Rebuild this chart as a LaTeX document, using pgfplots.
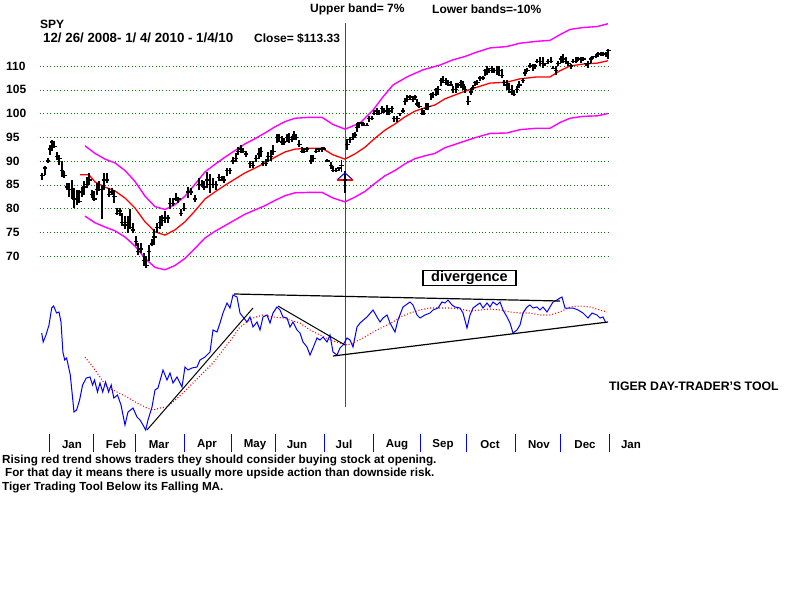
\documentclass[border=0pt]{standalone}
\usepackage{pgfplots}
\usepackage{pgfplotstable}
\pgfplotsset{compat=1.18}
\usepackage{fontspec}
\setmainfont{Liberation Sans}
\definecolor{dgreen}{RGB}{0,128,0}
\definecolor{mag}{RGB}{255,0,255}
\definecolor{pred}{RGB}{255,0,0}
\definecolor{pblue}{RGB}{0,0,255}

% price bars: x (pixel column), high, low, close
\pgfplotstableread{
x hi lo cl
42.3 87.4 86.0 87.0
45.0 89.0 87.1 88.5
47.7 90.6 89.5 90.0
49.7 93.4 91.3 92.5
52.3 94.4 92.2 94.0
54.3 94.1 92.7 93.0
57.0 91.8 90.2 91.0
59.3 91.3 89.2 90.5
61.7 89.9 86.7 88.0
64.3 87.8 86.4 87.0
66.7 85.3 84.0 84.5
69.0 85.3 82.5 84.0
71.7 86.0 81.9 84.0
74.3 84.3 80.1 82.0
76.7 84.0 80.8 82.0
79.3 84.0 81.2 81.5
81.7 84.6 82.5 83.5
84.3 85.7 82.9 84.5
87.0 86.7 84.3 85.0
89.3 87.4 85.0 86.0
92.3 84.0 82.2 83.0
94.3 83.6 81.5 82.0
96.7 85.3 82.9 84.0
99.0 85.7 83.6 84.0
101.7 85.0 77.7 84.0
104.3 87.4 84.0 86.0
106.7 87.4 85.3 86.0
109.0 84.3 82.5 83.0
111.7 84.3 82.9 83.5
114.3 84.0 81.2 82.5
117.0 80.1 78.7 79.0
119.7 80.1 78.4 79.5
122.3 79.1 76.3 77.0
125.0 78.4 75.6 76.5
127.7 78.4 74.9 77.0
130.3 79.8 75.9 76.0
133.0 77.0 74.9 75.5
135.7 74.2 72.1 73.0
138.3 72.8 70.3 71.0
141.0 72.8 70.7 71.5
143.7 70.7 67.9 69.0
146.3 70.0 67.5 68.0
149.0 72.4 68.9 71.0
151.7 73.5 72.1 72.5
154.3 75.6 72.4 74.0
157.0 77.0 74.9 76.0
159.7 78.4 75.6 77.0
162.3 78.7 76.3 77.5
165.0 79.4 77.0 78.0
167.7 78.7 77.0 78.0
170.3 82.2 79.8 81.0
173.0 82.2 80.5 81.0
175.7 83.3 81.5 82.0
178.3 82.5 81.2 82.0
181.0 79.8 78.4 79.0
183.7 81.2 79.4 80.0
188.3 84.6 82.3 83.5
190.7 84.3 82.8 83.5
195.0 82.8 81.4 82.0
199.3 86.5 83.9 85.0
201.7 86.1 84.6 85.0
204.0 85.7 83.9 84.5
207.3 87.6 84.3 86.0
210.0 87.2 83.2 85.0
212.7 86.5 84.3 85.0
216.0 85.7 83.9 85.0
219.3 87.2 85.7 86.5
221.7 86.8 85.7 86.0
224.0 86.8 85.4 86.0
227.3 88.6 86.8 88.0
230.0 88.6 87.2 88.0
233.3 90.8 89.4 90.0
236.0 91.6 89.7 90.5
238.3 93.0 91.2 92.0
240.7 93.4 91.6 92.5
243.3 92.7 91.6 92.0
246.0 92.1 90.8 91.5
250.0 90.1 88.6 89.5
252.7 90.1 88.6 89.0
256.0 91.2 89.7 90.5
258.7 92.7 90.5 91.5
260.7 93.0 90.8 92.0
263.3 90.1 89.0 89.5
266.0 90.5 89.0 89.5
268.3 91.9 89.7 91.0
270.7 92.3 90.1 91.0
273.3 93.4 91.2 92.0
276.7 95.6 93.8 95.0
279.3 95.6 94.1 95.0
281.7 95.2 93.4 94.0
284.0 94.9 93.4 94.0
286.7 95.6 94.1 95.0
289.3 95.9 93.8 95.0
291.7 95.2 94.1 94.5
294.0 96.3 94.5 95.5
296.0 95.6 94.5 95.0
299.3 94.5 93.0 93.5
301.7 93.0 91.6 92.0
304.0 92.7 91.6 92.0
306.7 93.0 91.9 92.5
310.7 91.2 89.4 90.0
313.3 91.2 89.7 90.5
316.0 92.7 91.6 92.0
319.3 92.7 91.9 92.5
321.7 93.0 91.9 92.5
324.0 93.0 92.3 92.5
327.3 90.5 89.7 90.0
330.7 89.7 88.3 89.0
333.3 89.0 87.6 88.0
336.0 88.6 87.6 88.0
338.7 88.6 87.9 88.5
341.5 90.2 87.6 89.0
345.0 88.0 83.2 86.0
347.3 94.6 92.3 93.5
350.0 95.1 93.7 94.5
352.7 95.8 94.4 95.0
355.0 96.2 94.8 95.5
357.3 98.0 96.2 97.0
359.3 98.3 96.9 98.0
361.7 98.3 97.3 98.0
364.0 98.0 97.3 97.5
366.7 98.0 97.3 97.5
369.3 99.4 98.3 99.0
371.7 99.4 98.7 99.0
374.0 100.8 99.7 100.0
376.7 101.1 99.7 100.5
379.3 100.8 99.7 100.0
381.7 101.5 100.1 101.0
384.3 101.1 100.1 100.5
386.7 101.8 99.7 100.5
389.3 101.1 99.7 100.5
392.0 101.5 100.1 101.0
394.3 99.4 98.3 99.0
397.3 99.4 98.3 99.0
400.0 100.1 99.4 100.0
402.7 101.1 100.1 100.5
405.0 103.2 101.8 102.5
407.3 103.9 102.5 103.0
410.0 103.9 102.9 103.5
412.7 103.6 102.5 103.0
415.0 103.9 102.9 103.5
417.3 103.0 101.5 102.0
419.3 102.5 101.1 101.5
421.7 101.1 99.7 100.0
424.0 100.8 99.7 100.0
426.0 102.2 100.8 101.0
428.3 102.2 100.8 101.5
430.7 104.3 102.9 104.0
433.3 104.6 103.2 104.0
436.0 105.4 103.6 105.0
438.3 105.7 103.9 105.0
440.7 107.5 105.7 107.0
443.3 107.8 106.4 107.0
446.0 107.5 106.1 106.5
448.3 107.1 105.7 106.5
450.7 106.8 105.7 106.0
453.3 105.7 104.3 105.0
456.0 106.4 104.3 105.0
458.3 106.4 105.4 106.0
460.7 107.1 105.4 106.5
462.7 106.8 105.0 106.0
465.0 105.7 104.3 105.0
468.3 103.6 101.8 102.5
470.7 105.4 103.9 104.5
473.3 106.1 105.0 105.5
475.0 106.8 105.7 106.5
477.3 107.1 106.1 106.5
480.0 107.9 106.8 107.5
482.7 108.0 107.1 107.5
485.0 109.3 107.9 109.0
487.3 110.0 108.2 109.0
489.3 109.6 108.6 109.0
492.0 110.0 108.6 109.5
494.0 109.6 108.6 109.0
496.7 110.0 108.2 109.0
499.3 110.0 107.9 109.0
501.7 109.3 107.5 108.0
504.0 107.1 105.7 106.5
506.7 107.1 105.0 106.0
509.3 106.4 104.3 105.0
511.7 106.1 103.9 104.5
514.0 105.0 103.6 104.0
516.7 105.7 104.3 105.0
519.3 106.8 105.4 106.0
522.7 107.5 106.4 107.0
525.0 109.3 107.9 108.5
527.3 109.6 108.9 109.0
530.0 110.7 109.6 110.0
532.7 110.4 108.9 110.0
535.0 110.4 109.3 110.0
537.3 111.4 110.7 111.0
540.0 111.8 110.0 111.0
542.7 111.8 109.6 110.5
545.0 110.7 110.0 110.5
548.3 111.4 110.4 111.0
550.7 111.8 110.7 111.0
553.3 110.0 109.3 109.5
556.0 110.0 108.2 109.0
558.3 111.1 110.0 110.5
560.7 112.1 110.7 111.5
563.3 112.5 110.7 111.5
566.0 111.8 110.4 111.0
568.3 111.1 110.0 110.5
571.0 110.4 109.3 110.0
573.3 111.4 110.7 111.0
576.0 111.8 110.7 111.0
578.3 111.8 111.1 111.5
581.0 111.8 110.7 111.5
583.3 111.8 111.1 111.5
586.0 110.7 110.0 110.5
588.3 111.1 109.6 110.5
590.7 111.8 110.7 111.5
593.3 112.1 111.4 112.0
596.0 112.5 111.8 112.0
598.3 112.9 111.8 112.5
600.7 112.9 112.1 112.5
603.3 112.9 112.1 112.5
606.0 112.9 111.8 112.5
608.3 113.6 111.4 113.3
}\bars

\pgfplotstableread{
x y
80 87.1
89 87.1
95 85.6
105 84.5
115 83.7
125 82.2
135 80.1
145 77.2
155 75.1
165 74.4
175 75.5
185 77.2
195 79.5
205 82.0
215 83.5
225 84.9
235 86.2
245 87.5
255 88.5
265 89.6
275 90.8
285 91.9
295 92.5
310 92.7
322 92.7
333 91.3
345 90.4
355 91.5
365 92.9
375 94.8
385 96.5
395 97.8
405 99.3
415 100.5
425 101.2
435 101.8
445 103.1
455 103.9
465 104.7
475 105.4
490 106.4
507 106.6
520 107.3
537 107.7
550 107.7
560 109.0
570 110.0
583 110.4
597 110.6
608 111.1
}\mavg

\pgfplotstableread{
x y
85 93.2
95 91.6
105 90.4
115 89.6
125 88.0
135 85.7
145 82.6
155 80.4
165 79.8
175 80.8
185 82.6
195 85.1
205 87.7
215 89.3
225 90.8
235 92.2
245 93.6
255 94.7
265 95.9
275 97.2
285 98.3
295 99.0
310 99.2
322 99.2
333 97.7
345 96.7
360 98.0
373 100.7
383 103.5
393 106.0
407 107.7
423 109.2
440 110.2
453 111.3
465 112.0
475 112.8
490 113.8
507 114.1
520 114.8
537 115.2
550 115.4
560 116.6
570 117.7
583 118.1
597 118.3
608 118.9
}\upband

\pgfplotstableread{
x y
85 78.4
95 77.0
105 76.1
115 75.3
125 74.0
135 72.1
145 69.5
155 67.6
165 67.1
175 68.0
185 69.5
195 71.6
205 73.8
215 75.2
225 76.4
235 77.6
245 78.8
255 79.7
265 80.6
275 81.7
285 82.7
295 83.3
310 83.4
322 83.4
333 82.2
345 81.4
355 82.4
365 83.6
375 85.3
385 86.9
395 88.0
405 89.4
415 90.5
425 91.1
435 91.6
445 92.8
455 93.5
465 94.2
475 94.9
490 95.8
507 95.9
520 96.6
537 96.9
550 96.9
560 98.1
570 99.0
583 99.4
597 99.5
608 100.0
}\loband

% day-trader oscillator and its moving average
\pgfplotstableread{
x y
41.7 110
43.2 101
46 108
49 118
51.7 135
53.6 137
56.6 130
59 131
61 121
62.9 91
64.7 83
66.6 85
70.3 68
74 31
76.6 33
79.6 43
82.6 58
86.3 65
90 66
92.6 58
94.5 63
97.5 51
100 60
102.7 51
105.6 61
108.6 51
111.2 58
113.8 45
117.5 48
121 38
125 18
128 31
133 35
137 26
140 23
143 18
145.7 13
148 23
152 36
155 53
158 55
163 73
167 63
170 70
173 60
177 66
182 56
185 76
188 73
192 75
197 76
200 83
205 86
210 91
213 113
217 111
220 120
223 130
227 140
230 135
233 148
237 146
240 130
243 126
247 121
250 126
253 116
257 121
260 113
263 126
267 128
270 120
273 130
277 136
280 133
283 126
287 125
290 116
293 121
297 113
300 110
303 101
307 96
310 88
313 95
317 105
320 103
323 106
327 101
330 108
333 91
337 88
340 95
343 98
347 105
350 103
353 96
357 116
360 120
367 126
373 133
377 126
380 121
383 125
387 128
390 120
395 111
398 123
403 136
410 141
413 138
417 128
420 125
425 128
430 130
433 133
438 135
442 141
445 140
448 143
452 138
455 136
460 135
463 130
467 115
470 128
473 135
477 138
480 140
483 135
487 140
490 136
493 141
497 138
500 141
503 133
507 126
510 120
513 110
517 113
520 118
523 130
527 136
530 138
533 135
537 136
540 133
543 136
547 131
550 136
553 141
557 143
560 145
562 146
565 135
568 135
573 135
578 133
583 130
588 125
592 130
597 128
600 125
603 126
606 120
}\osc

\pgfplotstableread{
x y
85 86
93 76
100 66
107 56
117 51
127 46
137 40
147 35
153 33
160 35
167 36
173 41
183 50
193 60
203 70
213 80
223 93
233 106
240 116
247 121
253 125
263 128
273 126
283 125
290 123
300 120
310 113
320 108
330 103
340 100
347 98
353 100
363 105
373 111
383 116
393 121
400 126
410 130
420 133
430 135
440 135
450 135
460 134
470 132
480 133
490 134
500 133
510 131
520 130
530 130
540 128
550 128
560 131
570 136
580 137
590 136
600 133
607 131
}\oscma

\begin{document}
\begin{tikzpicture}[x=1pt,y=1pt]
\path[use as bounding box] (0,0) rectangle (800,-600);
\draw[dgreen, line width=1pt] (345,-23) -- (345,-407);

\begin{axis}[
  at={(40pt,0pt)}, anchor=north west,
  scale only axis, width=568pt, height=280pt,
  xmin=40, xmax=608, ymin=64.947, ymax=123.895,
  axis line style={draw=none},
  xtick=\empty,
  ytick={70,75,...,110},
  ymajorgrids,
  grid style={dgreen, dash pattern=on 0.8pt off 2.6pt},
  major tick length=0pt,
  /pgf/number format/assume math mode=true,
  yticklabel style={anchor=west, xshift=-34pt, inner sep=0pt,
    font=\fontsize{12}{12}\selectfont\bfseries},
  clip=false,
]
\addplot[mag, line width=1.4pt] table[x=x, y=y] {\upband};
\addplot[mag, line width=1.4pt] table[x=x, y=y] {\loband};
\addplot[pred, line width=1.3pt] table[x=x, y=y] {\mavg};
\addplot[black, only marks, mark=-, mark size=2.2pt,
  mark options={line width=1.3pt},
  error bars/.cd, y dir=both, y explicit, error mark=none,
  error bar style={line width=1.9pt}]
  table[x=x, y=cl, y error plus expr=\thisrow{hi}-\thisrow{cl},
        y error minus expr=\thisrow{cl}-\thisrow{lo}] {\bars};
% buy arrow under the July low
\draw[pblue, line width=1pt] (axis cs:337,86.0) -- (axis cs:345,87.5) -- (axis cs:353,86.0);
\draw[pred, line width=1.3pt] (axis cs:337,86.0) -- (axis cs:353,86.0);
\end{axis}

\begin{axis}[
  at={(40pt,-283pt)}, anchor=north west,
  scale only axis, width=572pt, height=160pt,
  xmin=40, xmax=612, ymin=0, ymax=160,
  axis line style={draw=none},
  xtick={49,93,135,184,231,275,324,373,420,466,515,560,609},
  xticklabel=\empty,
  xtick pos=left, ytick=\empty,
  tick align=center, major tick length=18pt,
  tick style={pblue, line width=1pt},
  clip=false,
]
\addplot[pred, line width=1.1pt, dash pattern=on 1pt off 2pt] table[x=x, y=y] {\oscma};
\addplot[pblue, line width=1pt] table[x=x, y=y] {\osc};
\addplot[black, line width=1pt] coordinates {(147,13) (253,135)};
\addplot[black, line width=1.2pt] coordinates {(234,149) (560,142)};
\addplot[black, line width=1pt] coordinates {(278,137) (345,98)};
\addplot[black, line width=1.2pt] coordinates {(333,87) (608,121)};
\node[font=\fontsize{11.5}{12}\selectfont\bfseries, inner sep=0pt] at (axis cs:72,-1.5) {Jan};
\node[font=\fontsize{11.5}{12}\selectfont\bfseries, inner sep=0pt] at (axis cs:116,-1.5) {Feb};
\node[font=\fontsize{11.5}{12}\selectfont\bfseries, inner sep=0pt] at (axis cs:159,-1.5) {Mar};
\node[font=\fontsize{11.5}{12}\selectfont\bfseries, inner sep=0pt] at (axis cs:207,-1.5) {Apr};
\node[font=\fontsize{11.5}{12}\selectfont\bfseries, inner sep=0pt] at (axis cs:255,-1.5) {May};
\node[font=\fontsize{11.5}{12}\selectfont\bfseries, inner sep=0pt] at (axis cs:297,-1.5) {Jun};
\node[font=\fontsize{11.5}{12}\selectfont\bfseries, inner sep=0pt] at (axis cs:344,-1.5) {Jul};
\node[font=\fontsize{11.5}{12}\selectfont\bfseries, inner sep=0pt] at (axis cs:397,-1.5) {Aug};
\node[font=\fontsize{11.5}{12}\selectfont\bfseries, inner sep=0pt] at (axis cs:443,-1.5) {Sep};
\node[font=\fontsize{11.5}{12}\selectfont\bfseries, inner sep=0pt] at (axis cs:490,-1.5) {Oct};
\node[font=\fontsize{11.5}{12}\selectfont\bfseries, inner sep=0pt] at (axis cs:539,-1.5) {Nov};
\node[font=\fontsize{11.5}{12}\selectfont\bfseries, inner sep=0pt] at (axis cs:585,-1.5) {Dec};
\node[font=\fontsize{11.5}{12}\selectfont\bfseries, inner sep=0pt] at (axis cs:631,-1.5) {Jan};
\end{axis}

\begin{scope}[every node/.style={anchor=west, inner sep=0pt}]
\node[font=\fontsize{12}{12}\selectfont\bfseries] at (310,-9) {Upper band= 7\%};
\node[font=\fontsize{12}{12}\selectfont\bfseries] at (432,-9) {Lower bands=-10\%};
\node[font=\fontsize{12}{12}\selectfont\bfseries] at (40,-24) {SPY};
\node[font=\fontsize{13.3}{13}\selectfont\bfseries] at (43,-38) {12/ 26/ 2008- 1/ 4/ 2010 - 1/4/10};
\node[font=\fontsize{12}{12}\selectfont\bfseries] at (254,-38) {Close= \$113.33};
\node[font=\fontsize{12.3}{12}\selectfont\bfseries] at (609,-386) {TIGER DAY-TRADER'S TOOL};
\node[font=\fontsize{11.7}{12}\selectfont\bfseries] at (2,-460) {Rising red trend shows traders they should consider buying stock at opening.};
\node[font=\fontsize{11.7}{12}\selectfont\bfseries] at (5,-473.5) {For that day it means there is usually more upside action than downside risk.};
\node[font=\fontsize{11.7}{12}\selectfont\bfseries] at (2,-487) {Tiger Trading Tool Below its Falling MA.};
\end{scope}
\node[draw, line width=1.5pt, minimum width=93pt, minimum height=15pt, inner sep=0pt,
  font=\fontsize{14.5}{14}\selectfont\bfseries] at (469.5,-278) {divergence};
\end{tikzpicture}
\end{document}
